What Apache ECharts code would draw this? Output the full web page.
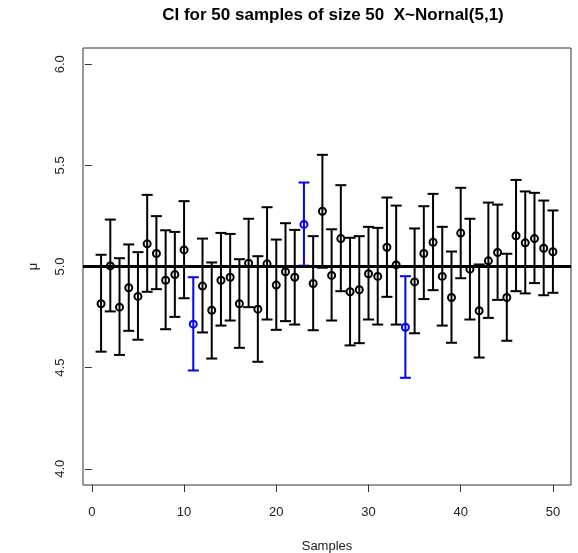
<!DOCTYPE html>
<html>
<head>
<meta charset="utf-8">
<script src="https://cdn.jsdelivr.net/npm/echarts@6/dist/echarts.min.js"></script>
<style>
  html, body { margin: 0; padding: 0; background: #fff; }
  #main { width: 578px; height: 553px; }
</style>
</head>
<body>
<div id="main"></div>
<script>
// sample number on the x axis
const samples = [1, 2, 3, 4, 5, 6, 7, 8, 9, 10,
    11, 12, 13, 14, 15, 16, 17, 18, 19, 20,
    21, 22, 23, 24, 25, 26, 27, 28, 29, 30,
    31, 32, 33, 34, 35, 36, 37, 38, 39, 40,
    41, 42, 43, 44, 45, 46, 47, 48, 49, 50];

// sample means
const means = [4.816, 5.003, 4.799, 4.895, 4.852, 5.112, 5.064, 4.932, 4.960, 5.082,
    4.715, 4.903, 4.784, 4.932, 4.947, 4.816, 5.016, 4.789, 5.013, 4.908,
    4.974, 4.947, 5.208, 4.916, 5.273, 4.956, 5.138, 4.875, 4.885, 4.964,
    4.951, 5.095, 5.008, 4.700, 4.924, 5.064, 5.120, 4.951, 4.847, 5.165,
    4.987, 4.781, 5.028, 5.069, 4.847, 5.152, 5.117, 5.138, 5.090, 5.073];

// lower ends of the intervals
const lower = [4.579, 4.778, 4.563, 4.682, 4.638, 4.875, 4.888, 4.690, 4.751, 4.843,
    4.486, 4.674, 4.545, 4.708, 4.733, 4.598, 4.799, 4.529, 4.738, 4.687,
    4.730, 4.713, 5.004, 4.685, 4.994, 4.733, 4.878, 4.610, 4.621, 4.738,
    4.713, 4.850, 4.713, 4.450, 4.670, 4.839, 4.883, 4.708, 4.623, 4.942,
    4.738, 4.550, 4.746, 4.835, 4.633, 4.878, 4.867, 4.918, 4.858, 4.870];

// upper ends of the intervals
const upper = [5.058, 5.232, 5.041, 5.109, 5.071, 5.354, 5.249, 5.179, 5.171, 5.323,
    4.947, 5.138, 5.020, 5.166, 5.161, 5.036, 5.236, 5.051, 5.293, 5.133,
    5.214, 5.181, 5.415, 5.150, 5.552, 5.184, 5.402, 5.142, 5.150, 5.196,
    5.191, 5.341, 5.301, 4.952, 5.188, 5.298, 5.359, 5.196, 5.074, 5.389,
    5.236, 5.010, 5.316, 5.306, 5.063, 5.428, 5.371, 5.364, 5.326, 5.277];

const mu = 5;
const xTicks = [0, 10, 20, 30, 40, 50];
const yTicks = [4.0, 4.5, 5.0, 5.5, 6.0];

const chart = echarts.init(document.getElementById('main'), null, { renderer: 'canvas' });

// 不包含 mu 的区间画成蓝色
function barColor(lo, hi) {
    return (lo > mu || hi < mu) ? '#0000ff' : '#000000';
}

const barData = samples.map((s, i) => [s, lower[i], upper[i]]);
const pointData = samples.map((s, i) => ({
    value: [s, means[i]],
    itemStyle: { borderColor: barColor(lower[i], upper[i]) }
}));

const font = 'Liberation Sans, Arial, sans-serif';

const option = {
    backgroundColor: '#ffffff',
    animation: false,
    title: {
        text: 'CI for 50 samples of size 50  X~Nornal(5,1)',
        left: 328,
        top: 2,
        textAlign: 'center',
        textStyle: { fontFamily: font, fontSize: 17, fontWeight: 'bold', color: '#000' }
    },
    grid: {
        left: 83, right: 7, top: 48, bottom: 68,
        outerBoundsMode: 'none',
        containLabel: false,
        show: true,
        borderColor: '#333',
        borderWidth: 1
    },
    xAxis: {
        type: 'value',
        min: -0.96,
        max: 51.96,
        name: 'Samples',
        nameLocation: 'middle',
        nameGap: 55,
        nameTextStyle: { fontFamily: font, fontSize: 13, color: '#222' },
        axisLine: { show: false },
        splitLine: { show: false },
        axisTick: {
            show: true, length: 7, inside: false,
            customValues: xTicks,
            lineStyle: { color: '#333' }
        },
        axisLabel: {
            margin: 21,
            customValues: xTicks,
            fontFamily: font, fontSize: 13, color: '#222'
        }
    },
    yAxis: {
        type: 'value',
        min: 3.92,
        max: 6.08,
        name: 'μ',
        nameLocation: 'middle',
        nameRotate: 90,
        nameGap: 43,
        nameTextStyle: { fontFamily: font, fontSize: 13, color: '#222' },
        axisLine: { show: false },
        splitLine: { show: false },
        axisTick: {
            show: true, length: 7, inside: false,
            customValues: yTicks,
            lineStyle: { color: '#333' }
        },
        axisLabel: {
            margin: 16,
            rotate: 90,
            customValues: yTicks,
            formatter: v => v.toFixed(1),
            fontFamily: font, fontSize: 13, color: '#222'
        }
    },
    series: [{
        type: 'custom',
        name: 'CI',
        data: barData,
        renderItem: function (params, api) {
            const x = api.value(0);
            const lo = api.value(1);
            const hi = api.value(2);
            const pLo = api.coord([x, lo]);
            const pHi = api.coord([x, hi]);
            const hw = 5.5;
            const style = { stroke: barColor(lo, hi), lineWidth: 2 };
            return {
                type: 'group',
                children: [
                    { type: 'line', shape: { x1: pLo[0], y1: pLo[1], x2: pHi[0], y2: pHi[1] }, style: style },
                    { type: 'line', shape: { x1: pHi[0] - hw, y1: pHi[1], x2: pHi[0] + hw, y2: pHi[1] }, style: style },
                    { type: 'line', shape: { x1: pLo[0] - hw, y1: pLo[1], x2: pLo[0] + hw, y2: pLo[1] }, style: style }
                ]
            };
        },
        markLine: {
            silent: true,
            symbol: ['none', 'none'],
            label: { show: false },
            lineStyle: { color: '#000', width: 3, type: 'solid' },
            data: [{ yAxis: mu }]
        },
        z: 2
    }, {
        type: 'scatter',
        name: 'mean',
        data: pointData,
        symbol: 'circle',
        symbolSize: 7,
        itemStyle: { color: 'rgba(0,0,0,0)', borderWidth: 2, opacity: 1 },
        z: 3
    }]
};

chart.setOption(option);
</script>
</body>
</html>
